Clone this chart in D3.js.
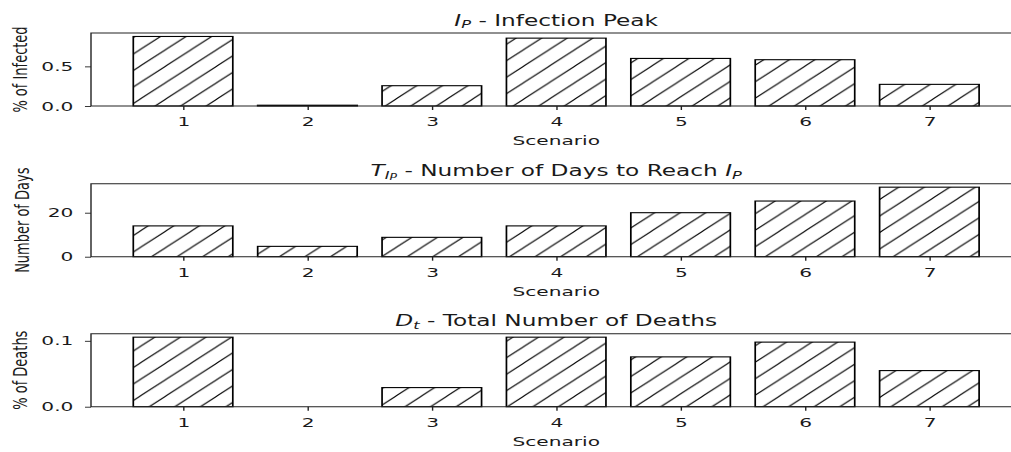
<!DOCTYPE html>
<html>
<head>
<meta charset="utf-8">
<script src="https://cdn.jsdelivr.net/npm/d3@7"></script>
<style>
  body { margin: 0; background: #fff; }
  svg { display: block; }
  text { font-family: "DejaVu Sans", sans-serif; fill: #1a1a1a; }
</style>
</head>
<body>
<div id="chart"></div>
<script>
// Scenario labels (x axis)
const scenarios = ["1", "2", "3", "4", "5", "6", "7"];

// Series values
const infectionPeak = [0.877, 0.01, 0.256, 0.856, 0.600, 0.584, 0.273];
const daysToPeak = [14, 4.7, 8.8, 14, 20, 25.3, 31.6];
const totalDeaths = [0.1055, 0, 0.029, 0.1055, 0.0756, 0.098, 0.0548];

// Y tick values and labels
const infectedTicks = [0, 0.5];
const infectedTickLabels = ["0.0", "0.5"];
const daysTicks = [0, 20];
const daysTickLabels = ["0", "20"];
const deathsTicks = [0, 0.1];
const deathsTickLabels = ["0.0", "0.1"];

// Figure size; the picture is stretched sideways, so draw in a squeezed space
const width = 1011;
const height = 452;
const sx = 1.55;
const axLeft = 91 / sx;
const axRight = 1021.4 / sx;   // right spine lies just outside the picture
const axHeight = 73;
const fontSize = "13px";

const panels = [
    {top: 33,    values: infectionPeak, ticks: infectedTicks, tickLabels: infectedTickLabels,
     ylabel: "% of Infected", ylabelX: 17.4, title: "ip"},
    {top: 183.7, values: daysToPeak,    ticks: daysTicks,     tickLabels: daysTickLabels,
     ylabel: "Number of Days", ylabelX: 19.0, title: "tip"},
    {top: 333.7, values: totalDeaths,   ticks: deathsTicks,   tickLabels: deathsTickLabels,
     ylabel: "% of Deaths", ylabelX: 17.6, title: "dt"}
];

const svg = d3.select("#chart")
    .append("svg")
    .attr("width", width)
    .attr("height", height);

// Hatch pattern "//"
const hatch = 16.5;
svg.append("defs")
    .append("pattern")
    .attr("id", "hatch")
    .attr("patternUnits", "userSpaceOnUse")
    .attr("x", 8)
    .attr("y", 0)
    .attr("width", hatch)
    .attr("height", hatch)
    .append("path")
    .attr("d", `M0,${hatch} L${hatch},0 M-4,4 L4,-4 M${hatch - 4},${hatch + 4} L${hatch + 4},${hatch - 4}`)
    .attr("stroke", "#000")
    .attr("stroke-width", 0.9)
    .attr("fill", "none");

const root = svg.append("g")
    .attr("transform", `scale(${sx},1)`);

// Shared x scale
const x = d3.scalePoint()
    .domain(scenarios)
    .range([axLeft, axRight])
    .padding(0.74);
const barWidth = x.step() * 0.8;

panels.forEach(p => {
    const bottom = p.top + axHeight;
    const maxVal = d3.max(p.values);
    const y = d3.scaleLinear()
        .domain([0, maxVal * 1.05])
        .range([bottom, p.top]);

    const g = root.append("g");

    // Bars
    g.selectAll("rect.bar")
        .data(p.values)
        .join("rect")
        .attr("class", "bar")
        .attr("x", (d, i) => x(scenarios[i]) - barWidth / 2)
        .attr("y", d => y(d))
        .attr("width", barWidth)
        .attr("height", d => y(0) - y(d))
        .attr("fill", "url(#hatch)")
        .attr("stroke", "#000")
        .attr("stroke-width", 1.1);

    // X axis
    const xAxis = g.append("g")
        .attr("transform", `translate(0,${bottom})`)
        .call(d3.axisBottom(x).tickSize(4).tickPadding(6.8).tickSizeOuter(0));
    xAxis.select(".domain").remove();
    xAxis.selectAll("line").attr("stroke", "#222").attr("stroke-width", 0.9);
    xAxis.selectAll("text").style("font-size", fontSize).attr("fill", "#1a1a1a");

    // Y axis
    const yAxis = g.append("g")
        .attr("transform", `translate(${axLeft},0)`)
        .call(d3.axisLeft(y)
            .tickValues(p.ticks)
            .tickFormat((d, i) => p.tickLabels[i])
            .tickSize(3.9).tickPadding(7.5).tickSizeOuter(0));
    yAxis.select(".domain").remove();
    yAxis.selectAll("line").attr("stroke", "#222").attr("stroke-width", 0.9);
    yAxis.selectAll("text").style("font-size", fontSize).attr("fill", "#1a1a1a");

    // Spines: left, top, bottom
    g.append("path")
        .attr("d", `M${axRight},${p.top} L${axLeft},${p.top} L${axLeft},${bottom} L${axRight},${bottom}`)
        .attr("fill", "none")
        .attr("stroke", "#222")
        .attr("stroke-width", 0.9);

    // X label
    g.append("text")
        .attr("x", (axLeft + axRight) / 2)
        .attr("y", bottom + 39.5)
        .attr("text-anchor", "middle")
        .style("font-size", fontSize)
        .text("Scenario");

    // Y label
    g.append("text")
        .attr("transform", `translate(${p.ylabelX},${p.top + axHeight / 2}) rotate(-90)`)
        .attr("text-anchor", "middle")
        .style("font-size", fontSize)
        .text(p.ylabel);

    // Title with math symbols
    const title = g.append("text")
        .attr("x", (axLeft + axRight) / 2)
        .attr("y", p.top - 7.3)
        .attr("text-anchor", "middle")
        .style("font-size", "15px");

    if (p.title === "ip") {
        title.append("tspan").attr("font-style", "italic").text("I");
        title.append("tspan").attr("font-style", "italic").attr("font-size", "10.5px").attr("dy", 2.5).text("P");
        title.append("tspan").attr("dy", -2.5).text(" - Infection Peak");
    } else if (p.title === "tip") {
        title.append("tspan").attr("font-style", "italic").text("T");
        title.append("tspan").attr("font-style", "italic").attr("font-size", "10.5px").attr("dy", 2.5).text("I");
        title.append("tspan").attr("font-style", "italic").attr("font-size", "8px").attr("dy", 1.5).text("P");
        title.append("tspan").attr("dy", -4).text(" - Number of Days to Reach ");
        title.append("tspan").attr("font-style", "italic").text("I");
        title.append("tspan").attr("font-style", "italic").attr("font-size", "10.5px").attr("dy", 2.5).text("P");
    } else {
        title.append("tspan").attr("font-style", "italic").text("D");
        title.append("tspan").attr("font-style", "italic").attr("font-size", "10.5px").attr("dy", 2.5).text("t");
        title.append("tspan").attr("dy", -2.5).text(" - Total Number of Deaths");
    }
});
</script>
</body>
</html>
